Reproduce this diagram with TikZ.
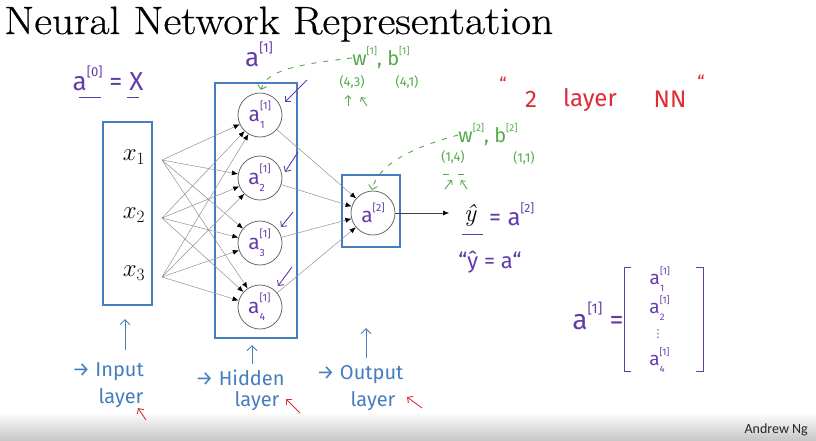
\documentclass[tikz,border=0pt]{standalone}
\usepackage{fontspec}
\usepackage{graphicx}
\usetikzlibrary{arrows.meta}
\newfontfamily\hand{Fira Sans}
\newfontfamily\calib{Carlito}
\newfontfamily\dejavu{DejaVu Sans}
\newfontfamily\titlefont[FakeBold=0.5]{Latin Modern Roman}
\newcommand\hs[1]{\hand\fontsize{#1}{#1}\selectfont}
\newcommand\asup[1]{a\raisebox{0.55em}{\scalebox{0.5}{[#1]}}}
\newcommand\wsup[2]{#1\raisebox{0.55em}{\scalebox{0.5}{[#2]}}}
\newcommand\asub[2]{a\makebox[0pt][l]{\raisebox{0.55em}{\scalebox{0.5}{[#1]}}}\raisebox{-0.35em}{\scalebox{0.5}{#2}}\hphantom{\scalebox{0.5}{]]}}}
\definecolor{hblue}{RGB}{70,125,190}
\definecolor{hpurple}{RGB}{100,60,170}
\definecolor{hgreen}{RGB}{85,170,75}
\definecolor{hred}{RGB}{220,45,55}
\definecolor{cgray}{RGB}{105,105,105}
\definecolor{egray}{RGB}{145,145,145}
\begin{document}
\begin{tikzpicture}[x=1pt,y=-1pt,
  box/.style={draw=hblue, line width=1.3pt, inner sep=0pt},
  neuron/.style={circle, draw=cgray, line width=0.8pt, minimum size=44pt, inner sep=0pt, text=hpurple, font=\hs{21}},
  edge/.style={draw=egray, line width=0.5pt, -{Latex[length=6pt,width=5pt,color=black]}},
  parrow/.style={hpurple, line width=0.9pt, -{Straight Barb[length=4pt,width=8pt]}},
  garrow/.style={hgreen, line width=0.9pt, -{Straight Barb[length=3pt,width=6pt]}},
  rarrow/.style={hred, line width=0.9pt, -{Straight Barb[length=4pt,width=8pt]}},
  barrow/.style={hblue, line width=0.9pt, -{Straight Barb[length=5pt,width=10pt]}},
  gdash/.style={hgreen, line width=0.9pt, dash pattern=on 5pt off 7pt, -{Straight Barb[length=4pt,width=9pt]}},
  ptext/.style={text=hpurple, inner sep=0pt},
  gtext/.style={text=hgreen, inner sep=0pt},
  btext/.style={text=hblue, inner sep=0pt, font=\hs{20}},
  rtext/.style={text=hred, inner sep=0pt, font=\hs{24}}]
\useasboundingbox (0,0) rectangle (816,440);
\fill[white] (0,0) rectangle (816,440);
\shade[top color=white, bottom color=black!22] (0,412) rectangle (816,440);

% title
\node[anchor=base west, inner sep=0pt, font=\titlefont\fontsize{39.5}{40}\selectfont] (title) at (4,34) {\scalebox{1.1}[1]{Neural Network Representation}};

% boxes
\node[box, minimum width=49pt, minimum height=183pt] (inbox) at (127.5,213.5) {};
\node[box, minimum width=82pt, minimum height=255pt] (hidbox) at (256,210.5) {};
\node[box, minimum width=58pt, minimum height=72pt] (outbox) at (371,211) {};

% inputs
\node[inner sep=0pt, font=\fontsize{23}{23}\selectfont] (x1) at (134,157) {$x_1$};
\node[inner sep=0pt, font=\fontsize{23}{23}\selectfont] (x2) at (134,215) {$x_2$};
\node[inner sep=0pt, font=\fontsize{23}{23}\selectfont] (x3) at (134,273) {$x_3$};
\coordinate (xo1) at (162,160);
\coordinate (xo2) at (162,218);
\coordinate (xo3) at (162,277);

% hidden neurons
\node[neuron] (h1) at (260,115) {\asub{1}{1}};
\node[neuron] (h2) at (260,178) {\asub{1}{2}};
\node[neuron] (h3) at (260,243) {\asub{1}{3}};
\node[neuron] (h4) at (260,307) {\asub{1}{4}};
\node[neuron] (out) at (373,213) {\asup{2}};

\foreach \i in {1,2,3}{\foreach \j in {1,...,4}{\draw[edge] (xo\i) -- (h\j);}}
\foreach \j in {1,...,4}{\draw[edge] (h\j) -- (out);}
\coordinate (yin) at (449,213);
\draw[edge, draw=black!75] (out) -- (yin);

% output equation
\node[inner sep=0pt, font=\fontsize{25}{25}\selectfont\itshape] (yh) at (470,215) {ŷ};
\node[ptext, anchor=west, font=\hs{24}] (yeq) at (489,214) {= \asup{2}};
\draw[hpurple, line width=1pt] (462,234) -- (483,234);
\node[ptext, font=\hs{22}] (yq) at (490,262) {“ŷ = a“};

% a0 = X
\node[ptext, font=\hs{26}] (a0) at (108,78) {\asup{0} = X};
\draw[hpurple, line width=1pt] (79,97) -- (101,97);
\draw[hpurple, line width=1pt] (127,97) -- (139,97);

% a1 label
\node[ptext, font=\hs{26}] (a1lab) at (259,54) {\asup{1}};

% green annotations layer 1
\node[gtext, font=\hs{20}] (w1) at (381,58) {\wsup{w}{1}, \wsup{b}{1}};
\node[gtext, font=\hs{13}] (d13) at (352,82) {(4,3)};
\node[gtext, font=\hs{13}] (d14) at (407,82) {(4,1)};
\draw[garrow] (348,106) -- (348,95);
\draw[garrow] (367,106) -- (361,97);
\draw[gdash] (w1.west) .. controls (300,64) and (266,70) .. (261,90);

% green annotations layer 2
\node[gtext, font=\hs{20}] (w2) at (488,135) {\wsup{w}{2}, \wsup{b}{2}};
\node[gtext, font=\hs{13}] (d24) at (453,157) {(1,4)};
\node[gtext, font=\hs{13}] (d21) at (524,158) {(1,1)};
\draw[hgreen, line width=0.9pt] (443,174) -- (449,174);
\draw[hgreen, line width=0.9pt] (458,174) -- (464,174);
\draw[garrow] (445,189) -- (452,180);
\draw[garrow] (467,189) -- (461,180);
\draw[gdash] (w2.west) .. controls (410,148) and (378,165) .. (372,190);

% purple arrows into hidden neurons
\draw[parrow] (307,80) -- (285,102);
\draw[parrow] (298,152) -- (285,172);
\draw[parrow] (293,212) -- (281,227);
\draw[parrow] (292,267) -- (278,286);

% "2 layer NN"
\node[rtext, font=\hs{18}] (q1) at (503,84) {“};
\node[rtext] (two) at (531,99) {2};
\node[rtext] (lay) at (590,100) {layer};
\node[rtext] (nn) at (670,99) {NN};
\node[rtext, font=\hs{18}] (q2) at (701,82) {“};

% bottom labels
\coordinate (ia1) at (125,350); \coordinate (ia2) at (125,319);
\draw[barrow] (ia1) -- (ia2);
\coordinate (ha1) at (252,364); \coordinate (ha2) at (252,345);
\draw[barrow] (ha1) -- (ha2);
\coordinate (oa1) at (366,358); \coordinate (oa2) at (366,328);
\draw[barrow] (oa1) -- (oa2);
\node[btext] (inl1) at (108,372) {→ Input};
\node[btext] (inl2) at (121,398) {layer};
\node[btext] (hil1) at (240,378) {→ Hidden};
\node[btext] (hil2) at (257,401) {layer};
\node[btext] (oul1) at (360,375) {→ Output};
\node[btext] (oul2) at (373,401) {layer};
\draw[rarrow] (146,420) -- (138,408);
\draw[rarrow] (300,413) -- (286,399);
\draw[rarrow] (422,408) -- (407,397);

% matrix
\node[ptext, font=\hs{28}] (ma) at (598,316) {\asup{1} =};
\draw[hpurple, line width=1pt] (631,267) -- (624,267) -- (624,371) -- (631,371);
\draw[hpurple, line width=1pt] (696,267) -- (703,267) -- (703,371) -- (696,371);
\node[ptext, font=\hs{19}] (m1) at (660,279) {\asub{1}{1}};
\node[ptext, font=\hs{19}] (m2) at (660,308) {\asub{1}{2}};
\node[ptext, font=\dejavu\fontsize{11}{11}\selectfont] (m3) at (658,334) {⋮};
\node[ptext, font=\hs{19}] (m4) at (660,360) {\asub{1}{4}};

% footer
\node[anchor=east, inner sep=0pt, font=\calib\fontsize{14}{14}\selectfont, text=black!85] (ng) at (808,430) {Andrew Ng};
\end{tikzpicture}
\end{document}
